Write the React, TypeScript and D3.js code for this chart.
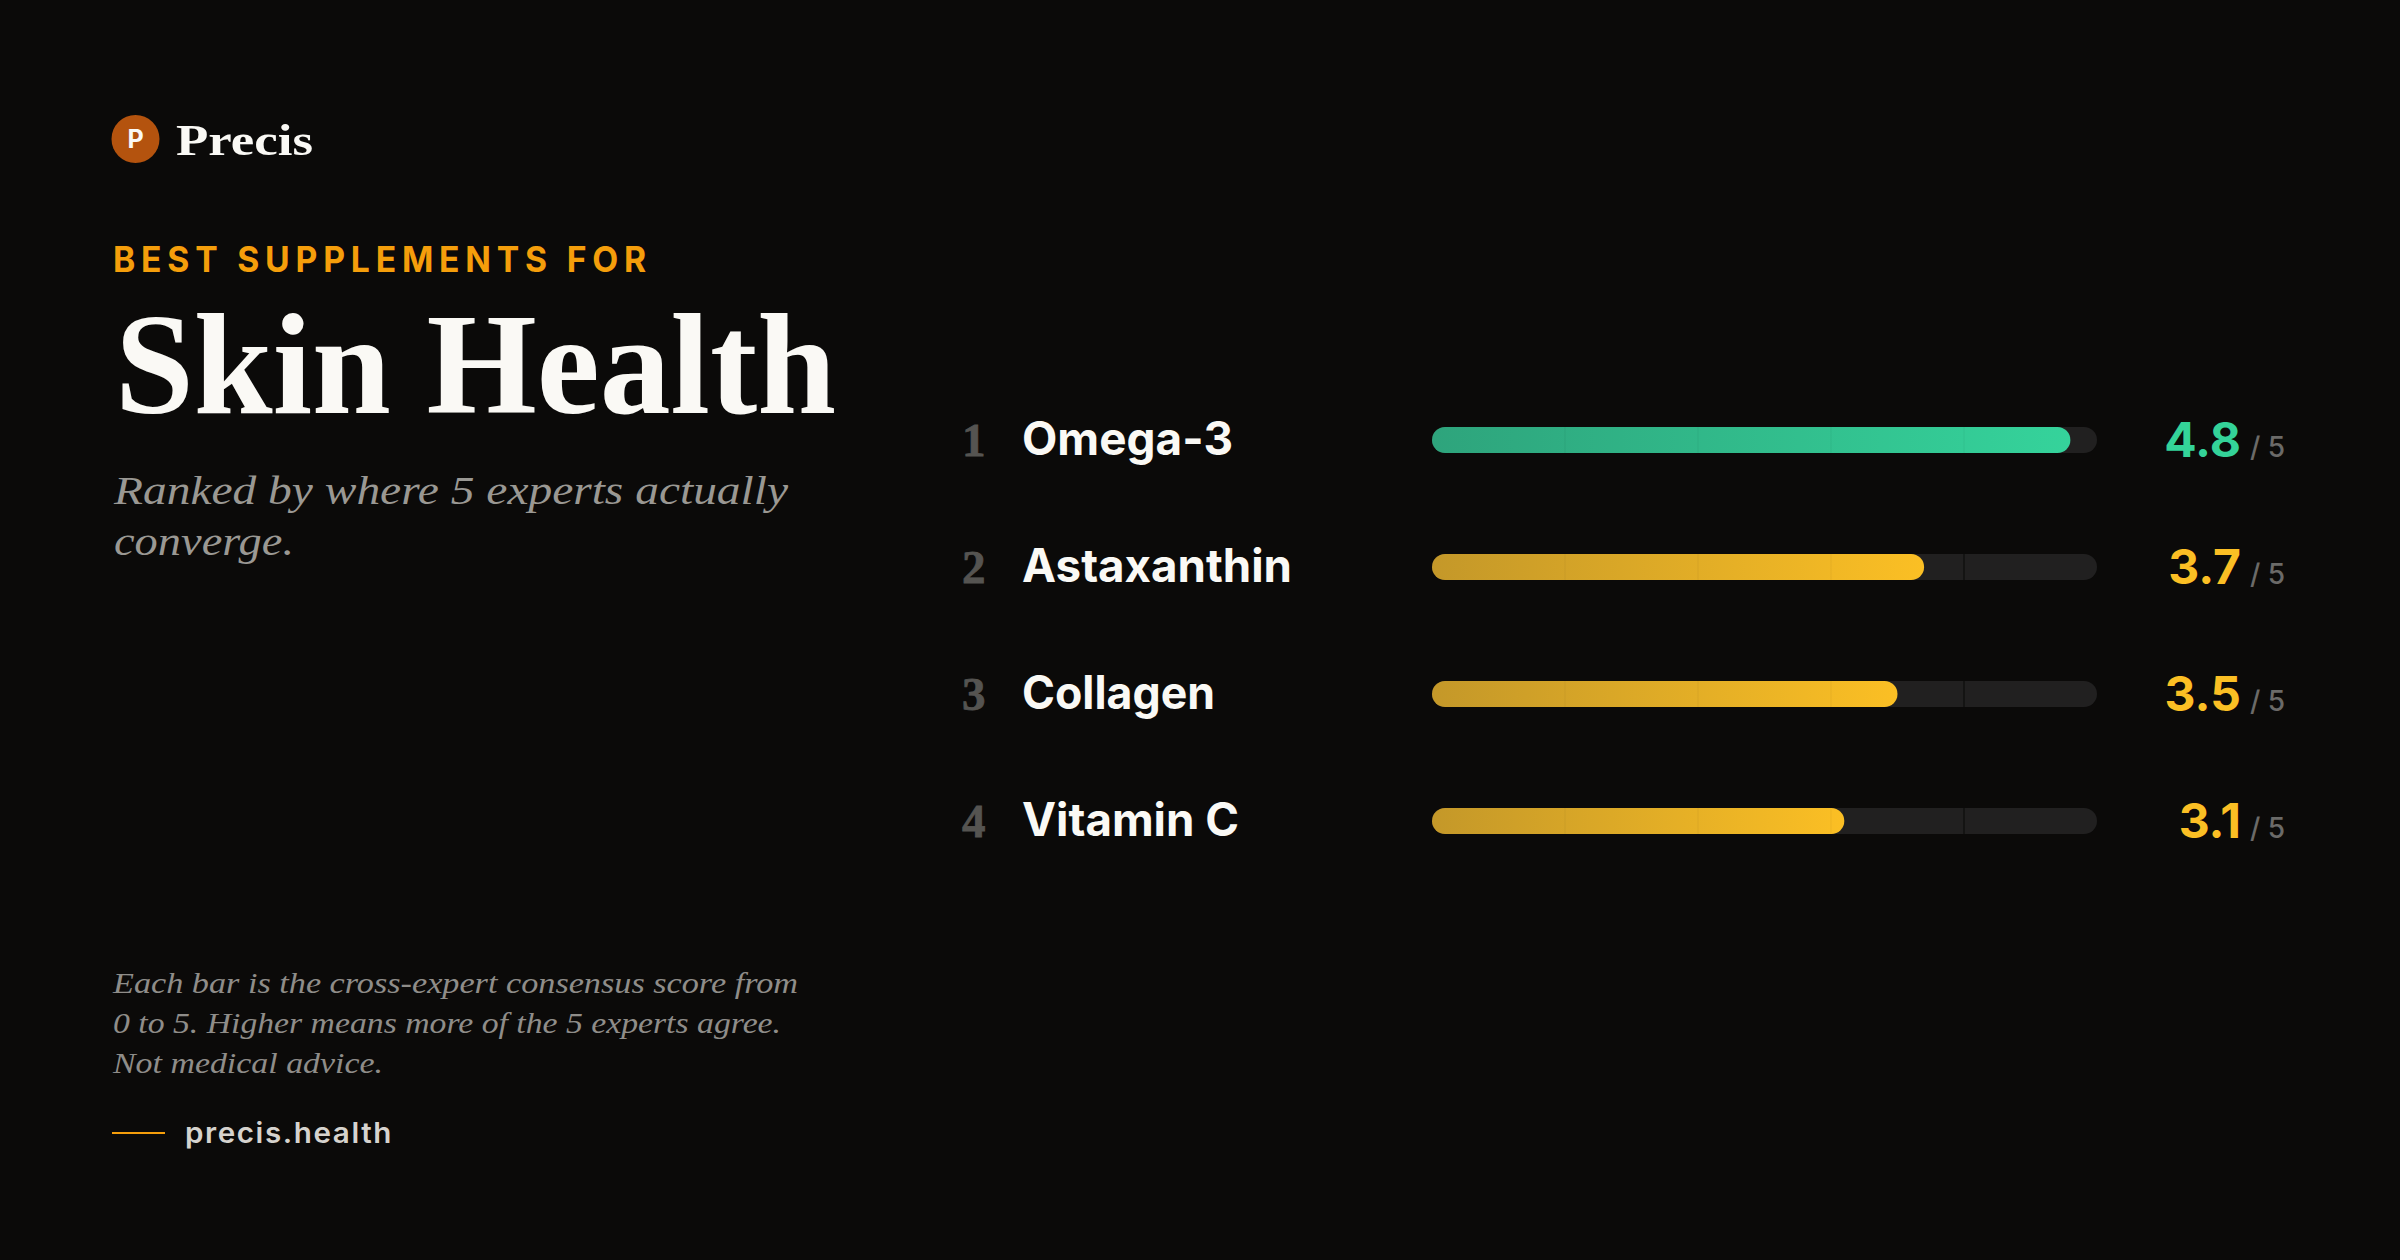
import React from "react";
import * as d3 from "d3";

const supplements = ["Omega-3", "Astaxanthin", "Collagen", "Vitamin C"];
const scores = [4.8, 3.7, 3.5, 3.1];
const ranks = [1, 2, 3, 4];
const nameWidths = [211, 270, 193, 217];
const gridTicks = [1, 2, 3, 4];
const maxScore = 5;
const topThreshold = 4.5;

const W = 2400;
const H = 1260;
const BG = "#0b0a09";
const INK = "#faf9f5";
const AMBER = "#f59e0b";
const SANS = "Inter, 'DejaVu Sans', sans-serif";
const SERIF = "'Liberation Serif', 'DejaVu Serif', serif";

export default function App() {
  const x = d3.scaleLinear().domain([0, maxScore]).range([1432, 2097]);
  const y = d3.scalePoint<string>().domain(supplements).range([440, 821]);
  const barH = 26;
  const r = barH / 2;

  return (
    <svg
      width={W}
      height={H}
      viewBox={`0 0 ${W} ${H}`}
      style={{ position: "absolute", left: 0, top: 0, display: "block" }}
    >
      <defs>
        <linearGradient id="gGreen" x1="0" x2="1" y1="0" y2="0">
          <stop offset="0" stopColor="#2ea47c" />
          <stop offset="1" stopColor="#35d39b" />
        </linearGradient>
        <linearGradient id="gGold" x1="0" x2="1" y1="0" y2="0">
          <stop offset="0" stopColor="#c49829" />
          <stop offset="1" stopColor="#fbbf24" />
        </linearGradient>
      </defs>
      <rect x={0} y={0} width={W} height={H} fill={BG} />

      {/* Brand */}
      <circle cx={135.5} cy={139} r={24} fill="#b4530e" />
      <text x={135.5} y={148} textAnchor="middle" fontFamily={SANS} fontWeight={700} fontSize={25} fill={INK}>P</text>
      <text x={176} y={155} fontFamily={SERIF} fontWeight={700} fontSize={44} fill={INK} textLength={137} lengthAdjust="spacingAndGlyphs">Precis</text>

      {/* Kicker + title */}
      <text x={113} y={272} fontFamily={SANS} fontWeight={700} fontSize={35} fill={AMBER} letterSpacing={6} textLength={539} lengthAdjust="spacingAndGlyphs">BEST SUPPLEMENTS FOR</text>
      <text x={115} y={413} fontFamily={SERIF} fontWeight={700} fontSize={143} fill={INK} textLength={721} lengthAdjust="spacingAndGlyphs">Skin Health</text>

      <text x={114} y={504} fontFamily={SERIF} fontStyle="italic" fontSize={41} fill="#9a9893" textLength={674} lengthAdjust="spacingAndGlyphs">Ranked by where 5 experts actually</text>
      <text x={114} y={555} fontFamily={SERIF} fontStyle="italic" fontSize={41} fill="#9a9893" textLength={180} lengthAdjust="spacingAndGlyphs">converge.</text>

      {/* Footer note */}
      <text x={113} y={993} fontFamily={SERIF} fontStyle="italic" fontSize={29} fill="#8f8d89" textLength={685} lengthAdjust="spacingAndGlyphs">Each bar is the cross-expert consensus score from</text>
      <text x={113} y={1033} fontFamily={SERIF} fontStyle="italic" fontSize={29} fill="#8f8d89" textLength={668} lengthAdjust="spacingAndGlyphs">0 to 5. Higher means more of the 5 experts agree.</text>
      <text x={113} y={1073} fontFamily={SERIF} fontStyle="italic" fontSize={29} fill="#8f8d89" textLength={270} lengthAdjust="spacingAndGlyphs">Not medical advice.</text>

      <line x1={112} x2={165} y1={1133} y2={1133} stroke={AMBER} strokeWidth={2} />
      <text x={185} y={1143} fontFamily={SANS} fontWeight={600} fontSize={28} fill="#d6d3ce" letterSpacing={1.5} textLength={208} lengthAdjust="spacingAndGlyphs">precis.health</text>

      {/* Rows */}
      {supplements.map((name, i) => {
        const cy = y(name) as number;
        const v = scores[i];
        const top = v >= topThreshold;
        const col = top ? "#34d399" : "#fbbf24";
        return (
          <g key={name}>
            <text x={962} y={cy + 16} fontFamily={SERIF} fontWeight={700} fontSize={47} fill="#555451" stroke="#555451" strokeWidth={0.8}>{ranks[i]}</text>
            <text x={1022} y={cy + 15} fontFamily={SANS} fontWeight={700} fontSize={46} fill={INK} textLength={nameWidths[i]} lengthAdjust="spacingAndGlyphs">{name}</text>

            <rect x={x(0)} y={cy - r} width={x(maxScore) - x(0)} height={barH} rx={r} ry={r} fill="#212020" />
            {gridTicks.map((t) => (
              <line key={t} x1={x(t)} x2={x(t)} y1={cy - r} y2={cy + r} stroke="#141413" strokeWidth={2} />
            ))}
            <rect x={x(0)} y={cy - r} width={x(v) - x(0)} height={barH} rx={r} ry={r} fill={top ? "url(#gGreen)" : "url(#gGold)"} />
            {gridTicks.filter((t) => t < v).map((t) => (
              <line key={"f" + t} x1={x(t)} x2={x(t)} y1={cy - r} y2={cy + r} stroke="#000" strokeOpacity={0.025} strokeWidth={2} />
            ))}

            <text x={2241} y={cy + 17} textAnchor="end" fontFamily={SANS} fontWeight={700} fontSize={48} fill={col}>{d3.format(".1f")(v)}</text>
            <text x={2250} y={cy + 17} fontFamily={SANS} fontWeight={500} fontSize={28} fill="#6b6a68">/ {maxScore}</text>
          </g>
        );
      })}
    </svg>
  );
}
